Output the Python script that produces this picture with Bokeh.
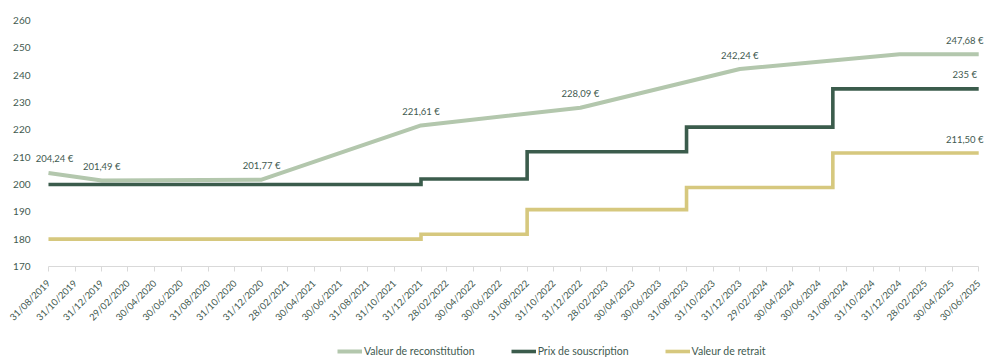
import pandas as pd
from bokeh.plotting import figure
from bokeh.layouts import column
from bokeh.models import (FixedTicker, DatetimeTickFormatter, Range1d, Legend,
                          LegendItem, ColumnDataSource, LabelSet)
from bokeh.core.properties import value
from bokeh.embed import file_html
from bokeh.resources import INLINE
import math

# ---------------- data ----------------
tick_labels = ["31/08/2019", "31/10/2019", "31/12/2019", "29/02/2020", "30/04/2020",
               "30/06/2020", "31/08/2020", "31/10/2020", "31/12/2020", "28/02/2021",
               "30/04/2021", "30/06/2021", "31/08/2021", "31/10/2021", "31/12/2021",
               "28/02/2022", "30/04/2022", "30/06/2022", "31/08/2022", "31/10/2022",
               "31/12/2022", "28/02/2023", "30/04/2023", "30/06/2023", "31/08/2023",
               "31/10/2023", "31/12/2023", "29/02/2024", "30/04/2024", "30/06/2024",
               "31/08/2024", "31/10/2024", "31/12/2024", "28/02/2025", "30/04/2025",
               "30/06/2025"]

recon_dates = ["31/08/2019", "31/12/2019", "31/12/2020", "31/12/2021", "31/12/2022",
               "31/12/2023", "31/12/2024", "30/06/2025"]
recon_values = [204.24, 201.49, 201.77, 221.61, 228.09, 242.24, 247.68, 247.68]

step_dates = ["31/08/2019", "31/12/2021", "31/08/2022", "31/08/2023", "31/07/2024",
              "30/06/2025"]
souscription_values = [200, 202, 212, 221, 235, 235]
retrait_values = [180, 181.8, 190.8, 198.9, 211.5, 211.5]

recon_label_dates = ["31/12/2019", "31/12/2020", "31/12/2021", "31/12/2022", "31/12/2023"]
recon_label_values = [201.49, 201.77, 221.61, 228.09, 242.24]
recon_label_texts = ["201,49 €", "201,77 €", "221,61 €", "228,09 €", "242,24 €"]

first_label_date = ["31/08/2019"]
first_label_value = [204.24]
first_label_text = ["204,24 €"]

end_label_dates = ["30/06/2025", "30/06/2025", "30/06/2025"]
end_label_values = [247.68, 235, 211.5]
end_label_texts = ["247,68 €", "235 €", "211,50 €"]

series_names = ["Valeur de reconstitution", "Prix de souscription", "Valeur de retrait"]
y_ticks = [170, 180, 190, 200, 210, 220, 230, 240, 250, 260]


def d(lst):
    return pd.to_datetime(lst, format="%d/%m/%Y")


# ---------------- style ----------------
C_LIGHT = "#b3c7ad"
C_DARK = "#3b5c4c"
C_YELLOW = "#d6c87e"
C_TEXT = "#3f5a50"
FONT = "Lato"
PAD_LEFT_DAYS = 32    # room inside the frame for the first data label
PAD_RIGHT_DAYS = 27   # room inside the frame for the last data labels
TOTAL_W = 996

x_first = d([tick_labels[0]])[0]
x_last = d([tick_labels[-1]])[0]

p = figure(x_axis_type="datetime", output_backend="svg", toolbar_location=None,
           frame_width=956, frame_height=246,
           min_border_left=34, min_border_right=6, min_border_top=20, min_border_bottom=64,
           x_range=Range1d(x_first - pd.Timedelta(days=PAD_LEFT_DAYS),
                           x_last + pd.Timedelta(days=PAD_RIGHT_DAYS)),
           y_range=Range1d(170, 260))
p.outline_line_color = None
p.background_fill_color = "white"
p.border_fill_color = "white"
p.xgrid.visible = False
p.ygrid.visible = False

line_styles = [dict(line_color=C_LIGHT, line_width=4, line_join="round"),
               dict(line_color=C_DARK, line_width=3.6, line_join="miter"),
               dict(line_color=C_YELLOW, line_width=3.6, line_join="miter")]

p.line(d(recon_dates), recon_values, **line_styles[0])
p.step(d(step_dates), souscription_values, mode="after", **line_styles[1])
p.step(d(step_dates), retrait_values, mode="after", **line_styles[2])

lbl_kw = dict(text_font=value(FONT), text_font_size="9.5px", text_color=C_TEXT,
              text_align="center", text_baseline="middle", y_offset=14)


def add_labels(dates, vals, texts, dx):
    src = ColumnDataSource(dict(x=d(dates), y=vals, t=texts))
    p.add_layout(LabelSet(x="x", y="y", text="t", source=src, x_offset=dx, **lbl_kw))


add_labels(recon_label_dates, recon_label_values, recon_label_texts, 0)
add_labels(first_label_date, first_label_value, first_label_text, 6)
add_labels(end_label_dates, end_label_values, end_label_texts, -14)

# x axis
xa = p.xaxis[0]
xa.bounds = (x_first, x_last)
xa.ticker = FixedTicker(ticks=[t.value / 1e6 for t in d(tick_labels)])
fmt = "%d/%m/%Y"
xa.formatter = DatetimeTickFormatter(microseconds=fmt, milliseconds=fmt, seconds=fmt,
                                     minsec=fmt, minutes=fmt, hourmin=fmt, hours=fmt,
                                     days=fmt, months=fmt, years=fmt)
xa.major_label_orientation = math.pi / 4
xa.major_label_text_font = FONT
xa.major_label_text_font_size = "9.5px"
xa.major_label_text_color = C_TEXT
xa.axis_line_color = "#d9d9d9"
xa.major_tick_line_color = "#d9d9d9"
xa.major_tick_in = 0
xa.major_tick_out = 5
xa.minor_tick_line_color = None
xa.major_label_standoff = 10

# y axis
ya = p.yaxis[0]
ya.ticker = FixedTicker(ticks=y_ticks)
ya.axis_line_color = None
ya.major_tick_line_color = None
ya.minor_tick_line_color = None
ya.major_label_text_font = FONT
ya.major_label_text_font_size = "10px"
ya.major_label_text_color = C_TEXT
ya.major_label_standoff = -2

# ---------------- legend strip (separate small figure below) ----------------
# the series are re-drawn here only to feed the legend; the strip's ranges keep them off-view
pl = figure(width=TOTAL_W, height=30, output_backend="svg", toolbar_location=None,
            x_axis_location=None, y_axis_location=None,
            min_border_left=0, min_border_right=0, min_border_top=0, min_border_bottom=0,
            x_range=Range1d(0, 1), y_range=Range1d(0, 1))
pl.outline_line_color = None
pl.grid.visible = False
legend_renderers = [
    pl.line(d(recon_dates), recon_values, **line_styles[0]),
    pl.step(d(step_dates), souscription_values, mode="after", **line_styles[1]),
    pl.step(d(step_dates), retrait_values, mode="after", **line_styles[2]),
]

legend = Legend(items=[LegendItem(label=n, renderers=[r])
                       for n, r in zip(series_names, legend_renderers)],
                orientation="horizontal", location=(303, 3),
                padding=0, margin=0, spacing=36, glyph_width=25, glyph_height=12,
                label_standoff=2, border_line_color=None, background_fill_alpha=0,
                label_text_font=FONT, label_text_font_size="10.5px",
                label_text_color=C_TEXT, label_height=12)
pl.add_layout(legend)

layout = column(p, pl, spacing=0)
open("out.html", "w").write(file_html(layout, INLINE))
